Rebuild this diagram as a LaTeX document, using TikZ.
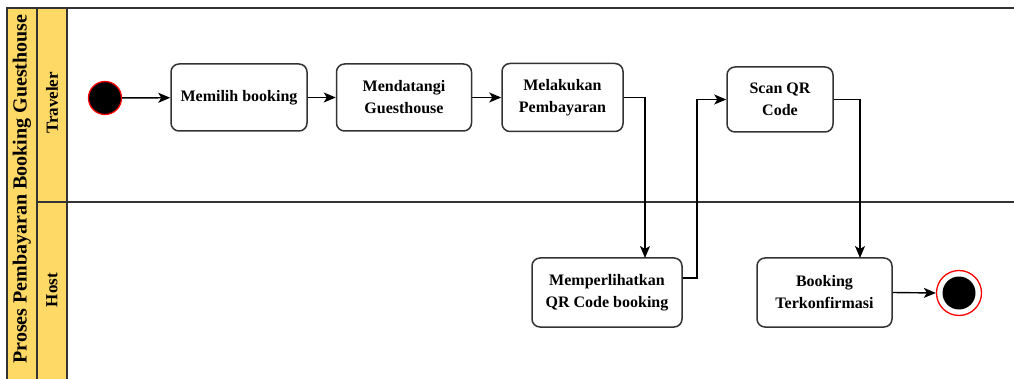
\documentclass[tikz,border=0pt]{standalone}
\usepackage{fontspec}
\setmainfont{Liberation Serif}
\usetikzlibrary{arrows.meta}
\definecolor{lanefill}{HTML}{FFD966}
\definecolor{linec}{HTML}{333333}
\begin{document}
\begin{tikzpicture}[x=1pt,y=-1pt,
  act/.style={draw=linec,line width=1.5pt,rounded corners=8pt,fill=white,align=center,font=\bfseries\fontsize{16}{22}\selectfont,inner sep=0pt},
  flow/.style={draw=black,line width=1.4pt,-{Stealth[length=12pt,width=10pt,inset=3pt]}},
  lanetxt/.style={font=\bfseries\fontsize{17}{19}\selectfont,rotate=90}]
\useasboundingbox (0,0) rectangle (1014,379);
% pool
\fill[white] (7,8) rectangle (1014,379);
\filldraw[fill=lanefill,draw=linec,line width=1.5pt] (7,8) rectangle (37,381);
\filldraw[fill=lanefill,draw=linec,line width=1.5pt] (37,8) rectangle (67,202);
\filldraw[fill=lanefill,draw=linec,line width=1.5pt] (37,202) rectangle (67,381);
\draw[linec,line width=1.5pt] (7,8) -- (1014,8);
\draw[linec,line width=1.5pt] (67,202) -- (1014,202);
\node[font=\bfseries\fontsize{20}{22}\selectfont,rotate=90] (pool) at (22,189) {Proses Pembayaran Booking Guesthouse};
\node[lanetxt] (trav) at (52,103) {Traveler};
\node[lanetxt] (host) at (52,290) {Host};
% nodes
\node[circle,fill=black,draw=red,line width=1.3pt,minimum size=33pt,inner sep=0pt] (start) at (105,98) {};
\node[act,minimum width=136pt,minimum height=67pt] (n1) at (239,97.5) {Memilih booking};
\node[act,minimum width=135pt,minimum height=67pt] (n2) at (404,97.5) {Mendatangi\\Guesthouse};
\node[act,minimum width=121pt,minimum height=68pt] (n3) at (562.5,97.5) {Melakukan\\Pembayaran};
\node[act,minimum width=106pt,minimum height=65pt] (n4) at (780,99.5) {Scan QR\\Code};
\node[act,minimum width=150pt,minimum height=69pt] (n5) at (607,292.5) {Memperlihatkan\\QR Code booking};
\node[act,minimum width=135pt,minimum height=69pt] (n6) at (824.5,292.5) {Booking\\Terkonfirmasi};
\node[circle,draw=red,line width=1.3pt,fill=white,minimum size=45pt,inner sep=0pt] (end) at (959,293) {};
\node[circle,fill=black,minimum size=33pt,inner sep=0pt] (endin) at (959,293) {};
% flows
\draw[flow] (start) -- (n1);
\draw[flow] (n1) -- (n2);
\draw[flow] (n2) -- (n3);
\draw[flow] (n3.east) -- (645,97.5) -- (645,258);
\coordinate (c1) at (697,278);
\draw[flow] (n5.east |- c1) -- (c1) -- (697,99.5) -- (n4.west);
\draw[flow] (n4.east) -- (860,99.5) -- (860,258);
\draw[flow] (n6.east) -- (end.west);
\end{tikzpicture}
\end{document}
